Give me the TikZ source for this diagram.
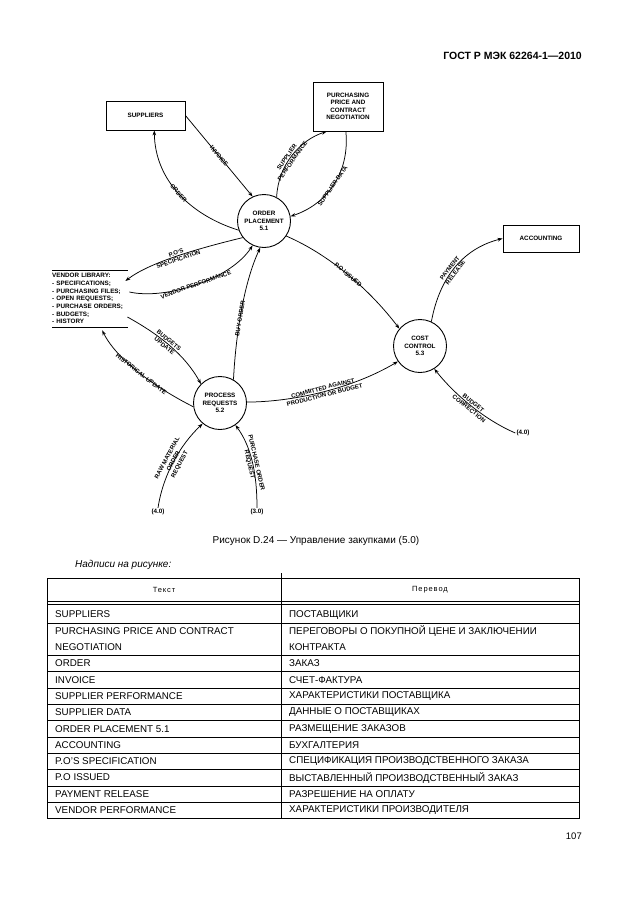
\documentclass[tikz,border=0pt]{standalone}
\usepackage{fontspec}
\setmainfont{Liberation Sans}
\usetikzlibrary{arrows.meta,calc}
\begin{document}
\begin{tikzpicture}[x=1pt,y=-1pt,
  lbl/.style={font=\fontsize{6}{7}\selectfont\bfseries, align=center, inner sep=0.5pt, sloped},
  proc/.style={draw, circle, line width=0.9pt, minimum size=53pt, inner sep=0pt, align=center, font=\fontsize{6.3}{7.6}\selectfont\bfseries},
  ext/.style={draw, rectangle, line width=0.9pt, align=center, inner sep=0pt, font=\fontsize{6.3}{7.4}\selectfont\bfseries},
  flow/.style={line width=0.75pt, -{Stealth[length=5pt,width=3.6pt]}},
  src/.style={font=\fontsize{6.3}{7}\selectfont\bfseries, inner sep=1pt},
  tab/.style={font=\fontsize{9.8}{11}\selectfont, anchor=west, inner sep=0pt},
  tabh/.style={font=\fontsize{7.5}{9}\selectfont\addfontfeature{LetterSpace=12}, inner sep=0pt},
]
\useasboundingbox (0,0) rectangle (630,913);
\fill[white] (0,0) rectangle (630,913);

% header
\node[anchor=east, font=\fontsize{10.5}{12}\selectfont\bfseries, inner sep=0pt] (hdr) at (582,56) {ГОСТ Р МЭК 62264-1—2010};

% external entities
\node[ext, minimum width=79pt, minimum height=29pt] (SUP) at (145.5,115.5) {SUPPLIERS};
\node[ext, minimum width=70pt, minimum height=49pt] (PUR) at (348,106.5) {PURCHASING\\PRICE AND\\CONTRACT\\NEGOTIATION};
\node[ext, minimum width=76pt, minimum height=27pt] (ACC) at (541,238.5) {ACCOUNTING};

% data store
\node[anchor=north west, text width=76pt, minimum height=57pt, inner sep=0pt, align=left,
      font=\fontsize{6.3}{7.67}\selectfont\bfseries] (VL) at (52,270)
  {VENDOR LIBRARY:\\- SPECIFICATIONS;\\- PURCHASING FILES;\\- OPEN REQUESTS;\\- PURCHASE ORDERS;\\- BUDGETS;\\- HISTORY};
\draw[line width=0.9pt] (VL.north west) -- (VL.north east);
\draw[line width=0.9pt] (VL.south west) -- (VL.south east);

% processes
\node[proc] (OP) at (264,221) {ORDER\\PLACEMENT\\5.1};
\node[proc] (CC) at (420,346) {COST\\CONTROL\\5.3};
\node[proc] (PR) at (220,403) {PROCESS\\REQUESTS\\5.2};

% off-page references
\node[src] (F40a) at (523,433) {(4.0)};
\node[src] (F40b) at (158,512) {(4.0)};
\node[src] (F30) at (257,512) {(3.0)};

% flows
\draw[flow] (OP.200) .. controls (190,215) and (155,180) .. ($(SUP.south west)!0.61!(SUP.south east)$)
  node[lbl,pos=.5] {ORDER};
\draw[flow] (SUP.east) -- (OP.115) node[lbl,pos=.5] {INVOICE};
\draw[flow] (OP.62) .. controls (278,165) and (300,140) .. ($(PUR.south west)!0.2!(PUR.south east)$)
  node[lbl,pos=.45] {SUPPLIER\\PERFORMANCE};
\draw[flow] ($(PUR.south west)!0.47!(PUR.south east)$) .. controls (350,175) and (325,205) .. (OP.10)
  node[lbl,pos=.5] {SUPPLIER DATA};
\draw[flow] (OP.218) .. controls (200,248) and (150,262) .. ($(VL.north east)+(-3,11)$)
  node[lbl,pos=.5] {P.O'S\\SPECIFICATION};
\draw[flow] ($(VL.north east)+(1,22)$) .. controls (165,300) and (230,280) .. (OP.245)
  node[lbl,pos=.5] {VENDOR PERFORMANCE};
\draw[flow] (PR.60) .. controls (236,330) and (245,280) .. (OP.262)
  node[lbl,pos=.42] {BUY ORDER};
\draw[flow] (OP.326) .. controls (330,255) and (370,290) .. (CC.140)
  node[lbl,pos=.5] {P.O ISSUED};
\draw[flow] (CC.65) .. controls (440,275) and (465,248) .. (ACC.west)
  node[lbl,pos=.45] {PAYMENT\\RELEASE};
\draw[flow] ($(VL.north east)+(-1,47)$) .. controls (160,335) and (185,355) .. (PR.135)
  node[lbl,pos=.45] {BUDGETS\\UPDATE};
\draw[flow] (PR.188) .. controls (160,390) and (118,362) .. ($(VL.south)+(12,3)$)
  node[lbl,pos=.5] {HISTORICAL UPDATE};
\draw[flow] (PR.2) .. controls (290,402) and (350,390) .. (CC.215)
  node[lbl,pos=.52] {COMMITTED AGAINST\\PRODUCTION OR BUDGET};
\draw[flow] (F40a.west) .. controls (485,420) and (455,395) .. (CC.302)
  node[lbl,pos=.5] {BUDGET\\CORRECTION};
\draw[flow] (F40b.north) .. controls (163,475) and (180,445) .. (PR.230)
  node[lbl,pos=.5] {RAW MATERIAL\\ORDER\\REQUEST};
\draw[flow] (F30.north) .. controls (257,470) and (250,445) .. (PR.305)
  node[lbl,pos=.45] {PURCHASE ORDER\\REQUEST};

% caption
\node[font=\fontsize{10}{12}\selectfont, inner sep=0pt] (cap) at (316,541) {Рисунок D.24 — Управление закупками (5.0)};
\node[anchor=west, font=\fontsize{10}{12}\selectfont\itshape, inner sep=0pt] (note) at (75,565) {Надписи на рисунке:};

% table
\draw[line width=0.6pt] (47,578) rectangle (579,818.4);
\draw[line width=0.6pt] (281,573) -- (281,818.4);
\draw[line width=0.5pt] (47,601) -- (579,601);
\draw[line width=0.5pt] (47,604) -- (579,604);
\foreach \yy in {622.8,655.4,671.7,688,704.3,720.6,736.9,753.2,769.5,785.8,802.1}
  \draw[line width=0.5pt] (47,\yy) -- (579,\yy);
\node[tabh] (H1) at (164,590) {Текст};
\node[tabh] (H2) at (430,590) {Перевод};
\node[tab] (L0a) at (55,631.2) {PURCHASING PRICE AND CONTRACT};
\node[tab] (L0b) at (55,646.8) {NEGOTIATION};
\node[tab] (R0a) at (289,631.2) {ПЕРЕГОВОРЫ О ПОКУПНОЙ ЦЕНЕ И ЗАКЛЮЧЕНИИ};
\node[tab] (R0b) at (289,646.8) {КОНТРАКТА};
\foreach \y/\l/\r [count=\i] in {614.6/SUPPLIERS/ПОСТАВЩИКИ,
  663.5/ORDER/ЗАКАЗ,
  679.8/INVOICE/СЧЕТ-ФАКТУРА,
  696.1/SUPPLIER PERFORMANCE/ХАРАКТЕРИСТИКИ ПОСТАВЩИКА,
  712.4/SUPPLIER DATA/ДАННЫЕ О ПОСТАВЩИКАХ,
  728.7/ORDER PLACEMENT 5.1/РАЗМЕЩЕНИЕ ЗАКАЗОВ,
  745/ACCOUNTING/БУХГАЛТЕРИЯ,
  761.3/P.O'S SPECIFICATION/СПЕЦИФИКАЦИЯ ПРОИЗВОДСТВЕННОГО ЗАКАЗА,
  777.6/P.O ISSUED/ВЫСТАВЛЕННЫЙ ПРОИЗВОДСТВЕННЫЙ ЗАКАЗ,
  793.9/PAYMENT RELEASE/РАЗРЕШЕНИЕ НА ОПЛАТУ,
  810.2/VENDOR PERFORMANCE/ХАРАКТЕРИСТИКИ ПРОИЗВОДИТЕЛЯ}
{
  \node[tab] (L\i) at (55,\y) {\l};
  \node[tab] (R\i) at (289,\y) {\r};
}

\node[anchor=east, font=\fontsize{9.5}{11}\selectfont, inner sep=0pt] (pg) at (582,836) {107};
\end{tikzpicture}
\end{document}
